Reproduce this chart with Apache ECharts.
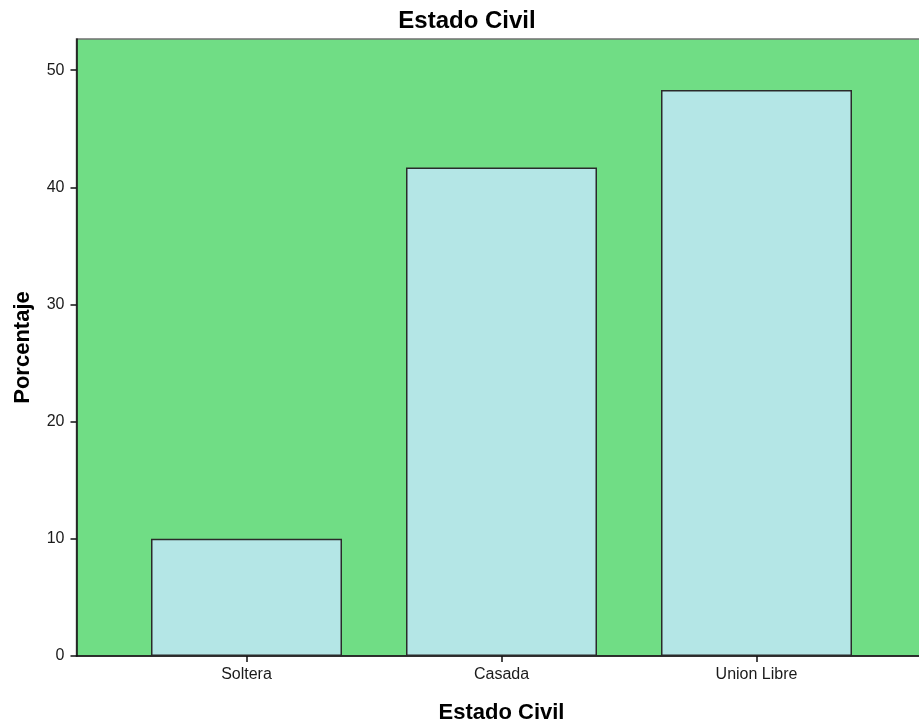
<!DOCTYPE html>
<html>
<head>
<meta charset="utf-8">
<script src="https://cdn.jsdelivr.net/npm/echarts@6/dist/echarts.min.js"></script>
<style>
html,body{margin:0;padding:0;background:#fff;}
#chart{width:919px;height:725px;}
</style>
</head>
<body>
<div id="chart"></div>
<script>
var categories = ['Soltera', 'Casada', 'Union Libre'];
var percentages = [10.0, 41.7, 48.3];
var yTicks = [0, 10, 20, 30, 40, 50];

var barData = categories.map(function (c, i) { return [i, percentages[i]]; });
var catIdx = categories.map(function (c, i) { return i; });

var chart = echarts.init(document.getElementById('chart'), null, {renderer: 'canvas'});
chart.setOption({
  animation: false,
  backgroundColor: '#ffffff',
  title: {
    text: 'Estado Civil',
    left: 462, textAlign: 'center', top: 4,
    textStyle: {fontFamily: 'Liberation Sans, Arial, sans-serif', fontSize: 24, fontWeight: 'bold', color: '#000'}
  },
  grid: {
    left: 76.5, top: 39, bottom: 69, right: -7.5,
    outerBoundsMode: 'none', containLabel: false,
    show: true, backgroundColor: '#70dd85', borderColor: '#707070', borderWidth: 1.5
  },
  xAxis: {
    type: 'value', min: -2/3, max: 8/3,
    name: 'Estado Civil', nameLocation: 'middle', nameGap: 46,
    nameTextStyle: {fontFamily: 'Liberation Sans, Arial, sans-serif', fontSize: 22, fontWeight: 'bold', color: '#000'},
    axisLine: {show: true, onZero: false, lineStyle: {color: '#111', width: 1.5}},
    axisTick: {show: true, customValues: catIdx, length: 6, lineStyle: {color: '#111', width: 1.5}},
    axisLabel: {
      customValues: catIdx, margin: 11,
      formatter: function (v) { return categories[Math.round(v)] || ''; },
      fontFamily: 'Liberation Sans, Arial, sans-serif', fontSize: 16, color: '#1a1a1a'
    },
    splitLine: {show: false}
  },
  yAxis: {
    type: 'value', min: 0, max: 52.66,
    name: 'Porcentaje', nameLocation: 'middle', nameGap: 43, nameRotate: 90,
    nameTextStyle: {fontFamily: 'Liberation Sans, Arial, sans-serif', fontSize: 22, fontWeight: 'bold', color: '#000'},
    axisLine: {show: true, onZero: false, lineStyle: {color: '#111', width: 1.5}},
    axisTick: {show: true, customValues: yTicks, length: 6, lineStyle: {color: '#111', width: 1.5}},
    axisLabel: {
      customValues: yTicks, margin: 12,
      fontFamily: 'Liberation Sans, Arial, sans-serif', fontSize: 16, color: '#1a1a1a'
    },
    splitLine: {show: false}
  },
  series: [{
    type: 'bar',
    data: barData,
    barWidth: 191,
    itemStyle: {color: '#b4e6e6', borderColor: '#2a2a2a', borderWidth: 1.5}
  }]
});
</script>
</body>
</html>
